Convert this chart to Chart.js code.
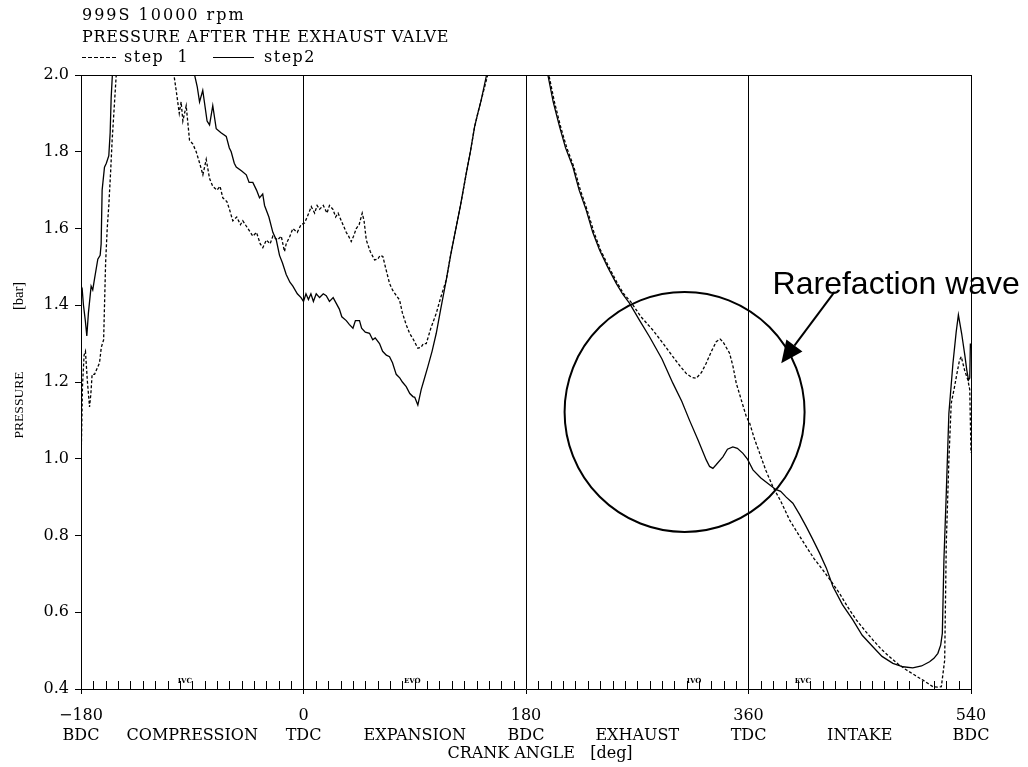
<!DOCTYPE html>
<html>
<head>
<meta charset="utf-8">
<script src="https://cdn.jsdelivr.net/npm/chart.js@4.4.1/dist/chart.umd.min.js"></script>
<style>
  html, body { margin: 0; padding: 0; background: #fff; }
  canvas { display: block; }
</style>
</head>
<body>
<canvas id="pressureChart" width="1028" height="767"></canvas>
<script>
// step 1 (dashed) - crank angle [deg] / pressure [bar]
const step1Angle = [
  -180, -179.6, -178.8, -177.5, -176.4, -174.8, -173.1, -172, -171, -169, -167.7, -165, -163.6, -161.7, -160.1,
  -158.8, -157.5, -156, -154.8, -151.5, -138, -122, -110, -105.7, -103, -100.5, -99, -97.6, -94.9, -92.2,
  -89.5, -86.8, -84, -81.4, -78.7, -76, -73.4, -70, -67.5, -65.3, -62, -59.9, -57.2, -54, -51,
  -49.1, -45, -41, -38, -35, -32.9, -30, -27, -24.8, -21, -18, -15.4, -14, -11, -8.6,
  -5, -2, 0.8, 3, 6.3, 9, 11, 13, 16, 19, 21, 23.8, 26, 28, 30.6,
  34.6, 36.5, 38.6, 40.5, 42.7, 45, 47.5, 49, 50.8, 54, 57.5, 60, 62, 64.2, 67,
  69.6, 72, 74, 77.7, 80, 83, 85.8, 89, 92.5, 95, 97, 99.3, 103, 107.4, 111,
  115.5, 119, 123.6, 127, 131.7, 135, 138.4, 141, 143.8, 149, 165, 185, 198.5, 203, 208,
  213, 218.7, 224, 229.5, 235, 240.3, 247, 254, 259, 264.5, 273, 282.7, 291, 298.8, 305,
  309.7, 314, 317.8, 322, 325.8, 330, 333.9, 337, 339.3, 342, 344.7, 347.5, 350.1, 354, 358.2,
  360.9, 365, 369.1, 374, 379.7, 386, 393.3, 400, 406.7, 413, 420.2, 427, 433.7, 440, 447.2,
  454, 460.6, 467, 474.1, 481, 487.6, 495, 501.1, 505, 509.2, 513, 516, 518.7, 520, 522.1,
  524, 526.7, 528.5, 530.7, 532.1, 534.8, 537.5, 539, 540
];
const step1Pressure = [
  0.98, 1.05, 1.19, 1.27, 1.28, 1.20, 1.135, 1.17, 1.22, 1.22, 1.23, 1.25, 1.29, 1.31, 1.51,
  1.60, 1.66, 1.75, 1.83, 2.0, 2.4, 2.6, 2.3, 2.02, 1.96, 1.90, 1.93, 1.88, 1.92, 1.83,
  1.82, 1.80, 1.77, 1.74, 1.78, 1.73, 1.71, 1.70, 1.71, 1.68, 1.67, 1.65, 1.62, 1.63, 1.61,
  1.62, 1.60, 1.58, 1.59, 1.56, 1.55, 1.57, 1.56, 1.58, 1.57, 1.58, 1.54, 1.56, 1.58, 1.60,
  1.59, 1.61, 1.614, 1.63, 1.657, 1.64, 1.66, 1.65, 1.66, 1.64, 1.66, 1.65, 1.63, 1.64, 1.62,
  1.59, 1.58, 1.566, 1.58, 1.60, 1.61, 1.64, 1.62, 1.57, 1.54, 1.518, 1.52, 1.53, 1.527, 1.49,
  1.457, 1.44, 1.43, 1.414, 1.38, 1.35, 1.327, 1.31, 1.288, 1.29, 1.30, 1.30, 1.34, 1.379, 1.42,
  1.466, 1.53, 1.605, 1.66, 1.744, 1.80, 1.865, 1.90, 1.935, 2.0, 2.4, 2.6, 2.0, 1.93, 1.865,
  1.81, 1.761, 1.70, 1.648, 1.59, 1.544, 1.50, 1.457, 1.43, 1.41, 1.37, 1.335, 1.30, 1.266, 1.24,
  1.222, 1.212, 1.21, 1.225, 1.249, 1.28, 1.305, 1.312, 1.305, 1.29, 1.275, 1.24, 1.197, 1.155, 1.11,
  1.093, 1.05, 1.014, 0.97, 0.927, 0.89, 0.84, 0.805, 0.771, 0.74, 0.71, 0.68, 0.649, 0.615, 0.58,
  0.553, 0.528, 0.505, 0.484, 0.465, 0.45, 0.435, 0.423, 0.415, 0.406, 0.405, 0.406, 0.475, 0.78, 0.997,
  1.144, 1.188, 1.22, 1.257, 1.266, 1.231, 1.205, 1.18, 1.015
];

// step2 (solid)
const step2Angle = [
  -180, -179, -178, -176.5, -175.3, -174, -171.8, -170.5, -169, -166.4, -164.5, -163.7, -162.9, -161, -159.5,
  -157.5, -156.4, -155.6, -154.3, -148, -125, -100, -89.5, -86, -84.1, -81.5, -78, -76, -73.4, -70.6,
  -67, -62.5, -60, -58.5, -56, -54.4, -50, -46.3, -44, -41, -38, -35.6, -33, -31.5, -28,
  -24.8, -22, -19.4, -17, -14, -11, -8.6, -5, -2, 0, 2, 4, 6, 8, 10.3,
  13, 16, 18.4, 21, 24, 26.5, 29, 31, 34.6, 37, 40, 42, 45.3, 47, 50,
  53.4, 56, 58, 61.5, 64, 67, 69.6, 72, 75, 78, 80, 83.1, 86, 88.5, 90,
  92.5, 95.2, 97, 100.6, 104, 107.4, 111, 115.5, 119, 123.6, 127, 131.7, 135, 138.4, 141,
  143.8, 148.1, 165, 185, 197.7, 202, 207.2, 212, 217.9, 223, 228.7, 234, 239.5, 246, 253,
  258, 263.8, 272, 279.9, 290, 298.8, 306, 312.3, 319, 325.8, 328.5, 331.2, 334, 339.3, 343,
  347.3, 351, 355.5, 359, 363.6, 370, 376, 382, 386, 390.5, 395.9, 401.3, 406.7, 412, 417.5,
  423, 428.3, 436, 444.4, 452, 460.6, 468, 476.8, 485, 492.9, 500, 506.5, 510, 513.2, 515.5,
  516.8, 518.1, 520, 522.1, 525.4, 528, 529.8, 532.4, 535, 536.6, 538, 539, 539.5, 540
];
const step2Pressure = [
  1.43, 1.44, 1.40, 1.36, 1.32, 1.38, 1.45, 1.44, 1.47, 1.52, 1.53, 1.56, 1.70, 1.76, 1.77,
  1.79, 1.85, 1.94, 2.02, 2.3, 2.6, 2.35, 2.02, 1.97, 1.93, 1.96, 1.88, 1.87, 1.92, 1.86,
  1.85, 1.84, 1.81, 1.80, 1.77, 1.76, 1.75, 1.74, 1.72, 1.72, 1.70, 1.68, 1.69, 1.66, 1.63,
  1.59, 1.57, 1.53, 1.51, 1.48, 1.46, 1.45, 1.43, 1.42, 1.41, 1.43, 1.415, 1.43, 1.41, 1.43,
  1.42, 1.43, 1.425, 1.41, 1.42, 1.405, 1.39, 1.37, 1.36, 1.35, 1.34, 1.36, 1.36, 1.34, 1.33,
  1.327, 1.31, 1.315, 1.30, 1.28, 1.27, 1.266, 1.25, 1.22, 1.21, 1.20, 1.188, 1.17, 1.162, 1.16,
  1.14, 1.18, 1.20, 1.24, 1.28, 1.327, 1.39, 1.466, 1.53, 1.605, 1.66, 1.744, 1.80, 1.865, 1.90,
  1.935, 2.0, 2.4, 2.6, 2.0, 1.93, 1.865, 1.81, 1.761, 1.70, 1.648, 1.59, 1.544, 1.50, 1.457,
  1.43, 1.405, 1.36, 1.318, 1.26, 1.197, 1.15, 1.10, 1.05, 0.997, 0.98, 0.975, 0.985, 1.005, 1.025,
  1.031, 1.027, 1.014, 1.00, 0.971, 0.95, 0.935, 0.92, 0.915, 0.90, 0.884, 0.855, 0.823, 0.79, 0.754,
  0.715, 0.667, 0.62, 0.58, 0.54, 0.51, 0.485, 0.467, 0.458, 0.455, 0.46, 0.471, 0.48, 0.493, 0.515,
  0.545, 0.736, 0.91, 1.118, 1.249, 1.33, 1.375, 1.327, 1.27, 1.231, 1.205, 1.21, 1.30, 1.29
];

const seriesNames = ['step  1', 'step2'];
const titleLines = ['999S 10000 rpm', 'PRESSURE AFTER THE EXHAUST VALVE'];

const xTickAngles = [-180, -90, 0, 90, 180, 270, 360, 450, 540];
const xTickNumbers = ['\u2212180', '', '0', '', '180', '', '360', '', '540'];
const xTickPhases = ['BDC', 'COMPRESSION', 'TDC', 'EXPANSION', 'BDC', 'EXHAUST', 'TDC', 'INTAKE', 'BDC'];

const valveEvents = ['IVC', 'EVO', 'IVO', 'EVC'];
const valveAngles = [-96, 88, 316, 404];

// annotation: rarefaction wave circle + arrow (data coordinates)
const noteText = 'Rarefaction wave';
const noteCircle = { x: 308.3, y: 1.122 };
const noteArrowFrom = { x: 429.6, y: 1.435 };
const noteArrowTo = { x: 386.5, y: 1.249 };
const noteTextAt = { x: 379.5, y: 1.429 };

const serif = '"DejaVu Serif", serif';

function toPoints(xs, ys) {
  return xs.map((x, i) => ({ x: x, y: ys[i] }));
}

const extras = {
  id: 'extras',
  afterDraw(chart) {
    const ctx = chart.ctx;
    const area = chart.chartArea;
    const xs = chart.scales.x;
    const ys = chart.scales.y;
    ctx.save();
    ctx.strokeStyle = '#000';
    ctx.fillStyle = '#000';

    // top + right frame
    ctx.lineWidth = 1;
    ctx.beginPath();
    ctx.moveTo(Math.round(area.left) + 0.5, Math.round(area.top) + 0.5);
    ctx.lineTo(Math.round(area.right) + 0.5, Math.round(area.top) + 0.5);
    ctx.lineTo(Math.round(area.right) + 0.5, Math.round(area.bottom) + 0.5);
    ctx.stroke();

    // minor ticks every 10 deg, pointing up
    ctx.beginPath();
    for (let a = -170; a < 540; a += 10) {
      if (a % 180 === 0) continue;
      const px = Math.round(xs.getPixelForValue(a)) + 0.5;
      ctx.moveTo(px, area.bottom);
      ctx.lineTo(px, area.bottom - 8);
    }
    ctx.stroke();

    // valve event markers
    ctx.font = 'bold 7px ' + serif;
    ctx.textAlign = 'center';
    ctx.textBaseline = 'bottom';
    valveEvents.forEach((t, i) => {
      const px = xs.getPixelForValue(valveAngles[i]);
      ctx.fillText(t, px, area.bottom - 4);
    });

    // header
    ctx.textAlign = 'left';
    ctx.textBaseline = 'alphabetic';
    ctx.font = '16px ' + serif;
    const lx = area.left + 1;
    ctx.letterSpacing = '2px';
    ctx.fillText(titleLines[0], lx, 20);
    ctx.letterSpacing = '0.7px';
    ctx.fillText(titleLines[1], lx, 42);
    ctx.lineWidth = 1;
    ctx.setLineDash([4, 2]);
    ctx.beginPath();
    ctx.moveTo(lx, 57.5);
    ctx.lineTo(lx + 35, 57.5);
    ctx.stroke();
    ctx.setLineDash([]);
    ctx.letterSpacing = '1.5px';
    ctx.fillText(seriesNames[0], lx + 42, 62);
    ctx.beginPath();
    ctx.moveTo(lx + 131, 57.5);
    ctx.lineTo(lx + 172, 57.5);
    ctx.stroke();
    ctx.fillText(seriesNames[1], lx + 182, 62);
    ctx.letterSpacing = '0px';

    // axis titles
    ctx.font = '16px ' + serif;
    ctx.textAlign = 'center';
    ctx.fillText('CRANK ANGLE   [deg]', 540, 758);
    ctx.save();
    ctx.translate(19, 0);
    ctx.rotate(-Math.PI / 2);
    ctx.font = '13.5px "Liberation Serif", serif';
    ctx.textBaseline = 'middle';
    ctx.fillText('PRESSURE', -405, 0);
    ctx.font = '14.5px "Liberation Serif", serif';
    ctx.fillText('[bar]', -296, 0);
    ctx.restore();

    // annotation
    ctx.lineWidth = 2;
    ctx.beginPath();
    ctx.arc(xs.getPixelForValue(noteCircle.x), ys.getPixelForValue(noteCircle.y), 120, 0, Math.PI * 2);
    ctx.stroke();

    const x0 = xs.getPixelForValue(noteArrowFrom.x), y0 = ys.getPixelForValue(noteArrowFrom.y);
    const x1 = xs.getPixelForValue(noteArrowTo.x), y1 = ys.getPixelForValue(noteArrowTo.y);
    const ang = Math.atan2(y1 - y0, x1 - x0);
    const headLen = 22, headW = 10;
    const bx = x1 - headLen * Math.cos(ang), by = y1 - headLen * Math.sin(ang);
    ctx.beginPath();
    ctx.moveTo(x0, y0);
    ctx.lineTo(bx, by);
    ctx.stroke();
    ctx.beginPath();
    ctx.moveTo(x1, y1);
    ctx.lineTo(bx + headW * Math.sin(ang), by - headW * Math.cos(ang));
    ctx.lineTo(bx - headW * Math.sin(ang), by + headW * Math.cos(ang));
    ctx.closePath();
    ctx.fill();

    ctx.font = '32px "Liberation Sans", Arial, sans-serif';
    ctx.textAlign = 'left';
    ctx.textBaseline = 'alphabetic';
    ctx.fillText(noteText, xs.getPixelForValue(noteTextAt.x), ys.getPixelForValue(noteTextAt.y));

    ctx.restore();
  }
};

new Chart(document.getElementById('pressureChart'), {
  type: 'line',
  data: {
    datasets: [
      {
        label: seriesNames[0],
        data: toPoints(step1Angle, step1Pressure),
        borderColor: '#000',
        borderWidth: 1.3,
        borderDash: [3, 2],
        pointRadius: 0,
        tension: 0,
        fill: false
      },
      {
        label: seriesNames[1],
        data: toPoints(step2Angle, step2Pressure),
        borderColor: '#000',
        borderWidth: 1.3,
        pointRadius: 0,
        tension: 0,
        fill: false
      }
    ]
  },
  options: {
    responsive: false,
    animation: false,
    layout: { padding: { top: 75, right: 57, left: 0, bottom: 0 } },
    plugins: {
      legend: { display: false },
      title: { display: false },
      tooltip: { enabled: false }
    },
    scales: {
      x: {
        type: 'linear',
        min: -180,
        max: 540,
        afterBuildTicks(scale) {
          scale.ticks = xTickAngles.map(v => ({ value: v }));
        },
        afterFit(scale) { scale.height = 78; },
        border: { display: true, color: '#000', width: 1 },
        grid: {
          drawOnChartArea: true,
          color: ctx => (ctx.tick && ctx.tick.value % 180 === 0) ? '#000' : 'rgba(0,0,0,0)',
          lineWidth: 1,
          tickLength: 5
        },
        ticks: {
          autoSkip: false,
          maxRotation: 0,
          padding: 12,
          color: '#000',
          font: { family: serif, size: 16, lineHeight: 1.25 },
          callback: value => {
            const i = xTickAngles.indexOf(value);
            return i < 0 ? '' : [xTickNumbers[i], xTickPhases[i]];
          }
        }
      },
      y: {
        min: 0.4,
        max: 2.0,
        afterFit(scale) { scale.width = 81; },
        border: { display: true, color: '#000', width: 1 },
        grid: { drawOnChartArea: false, color: '#000', tickLength: 6 },
        ticks: {
          stepSize: 0.2,
          padding: 6,
          color: '#000',
          font: { family: serif, size: 16 },
          callback: v => v.toFixed(1)
        }
      }
    }
  },
  plugins: [extras]
});
</script>
</body>
</html>
